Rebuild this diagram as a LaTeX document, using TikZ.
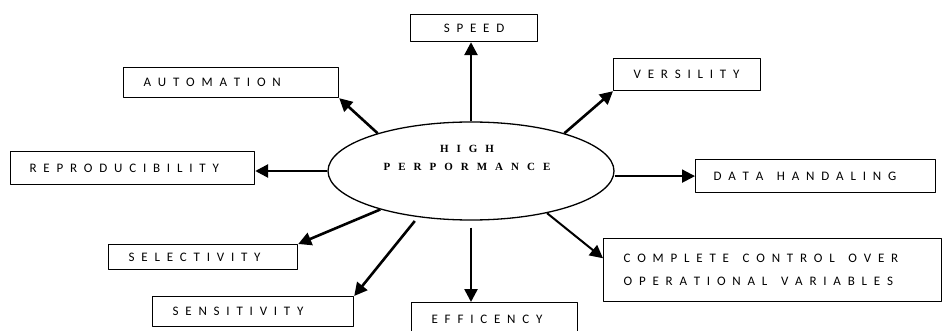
\documentclass[tikz,border=0pt]{standalone}
\usepackage{fontspec}
\usetikzlibrary{arrows.meta,shapes.geometric}
\newfontfamily\boxfont{Carlito}
\newfontfamily\hpfont{Liberation Serif}
\newcommand\boxtext{\boxfont\fontsize{13}{23}\selectfont}
\newcommand\hptext{\hpfont\bfseries\fontsize{11}{18}\selectfont}
\begin{document}
\begin{tikzpicture}[x=1pt,y=-1pt,>={Triangle[length=13pt,width=13pt]},line join=round,
	box/.style={draw,line width=1.2pt,anchor=north west,inner xsep=20pt,inner ysep=0pt,align=left,font=\boxtext,execute at begin node={\spaceskip 6.8pt\relax}},
	arr/.style={->,line width=2.6pt},
	thinarr/.style={->,line width=2pt}]
				\useasboundingbox (0,0) rectangle (942,331);
				\node[draw,ellipse,line width=1.3pt,minimum width=286pt,minimum height=98pt,inner sep=0pt] (hp) at (471,171) {};
				\node[font=\hptext,text width=200pt,align=center,inner sep=0pt,execute at begin node={\spaceskip 8pt\relax}] (hplabel) at (467,158) {H I G H\\P E R P O R M A N C E};
				\node[box,text width=87pt,minimum height=27pt,align=center] (speed) at (410,14) {S P E E D};
				\node[box,text width=175pt,minimum height=30pt] (auto) at (123,67) {A U T O M A T I O N};
				\node[box,text width=107pt,minimum height=32pt] (vers) at (613,58) {V E R S I L I T Y};
				\node[box,text width=206pt,minimum height=33pt,inner xsep=19pt] (repro) at (10,151) {R E P R O D U C I B I L I T Y};
				\node[box,text width=204pt,minimum height=33pt,inner xsep=18pt] (data) at (695,159) {D A T A \ H A N D A L I N G};
				\node[box,text width=298pt,minimum height=63pt] (cc) at (603,238) {C O M P L E T E \ C O N T R O L \ O V E R\\O P E R A T I O N A L \ V A R I A B L E S};
				\node[box,text width=149pt,minimum height=25pt] (sel) at (108,244) {S E L E C T I V I T Y};
				\node[box,text width=161pt,minimum height=30pt] (sen) at (152,296) {S E N S I T I V I T Y};
				\node[box,text width=126pt,minimum height=34pt] (eff) at (411,302) {E F F I C E N C Y};
				\draw[arr] (hp.north) -- (hp.north |- speed.south);
				\draw[arr] (hp.158) -- (auto.south east);
				\draw[arr] (hp.22) -- (vers.south west);
				\draw[arr] (hp.west) -- (hp.west -| repro.east);
				\draw[thinarr] (hp.east |- data.west) -- (data.west);
				\draw[thinarr] (hp.-29) -- (cc.176);
				\draw[arr] (hp.203) -- (sel.north east);
				\draw[arr,shorten <=5pt] (hp.221) -- (sen.north east);
				\draw[arr,shorten <=7pt] (hp.south) -- (hp.south |- eff.north);
\end{tikzpicture}
\end{document}
